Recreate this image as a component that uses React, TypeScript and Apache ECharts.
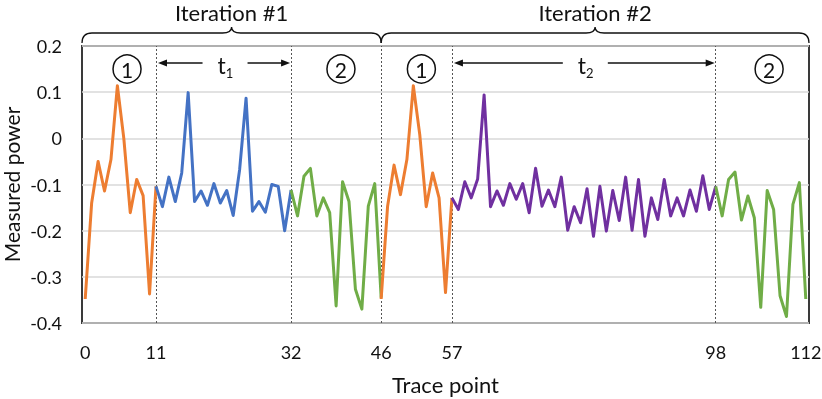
import React, { useEffect, useRef } from "react";
import * as echarts from "echarts";

// ---- data ----
const traceIndex: string[] = Array.from({ length: 113 }, (_, i) => String(i));
const xTickLabels = [0, 11, 32, 46, 57, 98, 112];
const phaseBoundaries = [11, 32, 46, 57, 98];
const yMin = -0.4;
const yMax = 0.2;
const yStep = 0.1;

const iter1Phase1Start = 0;
const iter1Phase1 = [-0.348, -0.14, -0.05, -0.114, -0.046, 0.114, 0.0, -0.161, -0.089, -0.124, -0.337, -0.104];
const iter1WaitStart = 11;
const iter1Wait = [-0.104, -0.148, -0.084, -0.137, -0.075, 0.099, -0.137, -0.114, -0.145, -0.098, -0.14, -0.113, -0.167, -0.068, 0.087, -0.158, -0.137, -0.16, -0.1, -0.104, -0.2, -0.112];
const iter1Phase2Start = 32;
const iter1Phase2 = [-0.112, -0.168, -0.082, -0.065, -0.168, -0.129, -0.161, -0.363, -0.094, -0.137, -0.327, -0.37, -0.147, -0.098, -0.345];
const iter2Phase1Start = 46;
const iter2Phase1 = [-0.348, -0.147, -0.058, -0.122, -0.046, 0.114, 0.008, -0.148, -0.075, -0.129, -0.334, -0.129];
const iter2WaitStart = 57;
const iter2Wait = [-0.129, -0.154, -0.094, -0.129, -0.088, 0.094, -0.148, -0.114, -0.145, -0.098, -0.132, -0.098, -0.161, -0.065, -0.147, -0.112, -0.148, -0.084, -0.199, -0.148, -0.183, -0.109, -0.212, -0.104, -0.201, -0.113, -0.178, -0.084, -0.199, -0.089, -0.212, -0.129, -0.176, -0.089, -0.168, -0.129, -0.168, -0.112, -0.158, -0.081, -0.154, -0.104];
const iter2Phase2Start = 98;
const iter2Phase2 = [-0.104, -0.168, -0.089, -0.073, -0.177, -0.125, -0.172, -0.366, -0.113, -0.154, -0.341, -0.386, -0.143, -0.096, -0.348];

const FONT = 'Lato, "Open Sans", "DejaVu Sans", sans-serif';
const W = 822;
const H = 399;
const GRID = { left: 82, right: 13, top: 46, bottom: 76 };

const ORANGE = "#ED7D31";
const BLUE = "#4472C4";
const GREEN = "#70AD47";
const PURPLE = "#7030A0";

function pad(start: number, vals: number[]): (number | null)[] {
  return traceIndex.map((_, i) => (i >= start && i < start + vals.length ? vals[i - start] : null));
}

function braceD(x0: number, x1: number, yEnd: number, yArm: number, yTip: number): string {
  const m = (x0 + x1) / 2;
  return (
    `M${x0},${yEnd} Q${x0},${yArm} ${x0 + 10},${yArm} L${m - 9},${yArm} ` +
    `Q${m},${yArm} ${m},${yTip} Q${m},${yArm} ${m + 9},${yArm} ` +
    `L${x1 - 10},${yArm} Q${x1},${yArm} ${x1},${yEnd}`
  );
}

export default function App() {
  const ref = useRef<HTMLDivElement>(null);
  useEffect(() => {
    if (!ref.current) return;
    const chart = echarts.init(ref.current, undefined, { renderer: "svg" });
    const lineSeries = (name: string, start: number, vals: number[], color: string, extra: any = {}) => ({
      name,
      type: "line",
      data: pad(start, vals),
      showSymbol: false,
      symbol: "none",
      connectNulls: false,
      lineStyle: { color, width: 3, join: "round" },
      itemStyle: { color },
      z: 3,
      ...extra,
    });
    chart.setOption({
      animation: false,
      grid: {
        ...GRID,
        containLabel: false,
        outerBoundsMode: "none",
        show: true,
        borderColor: "#3a3a3a",
        borderWidth: 2,
        backgroundColor: "transparent",
      },
      xAxis: {
        type: "category",
        data: traceIndex,
        boundaryGap: true,
        name: "Trace point",
        nameLocation: "middle",
        nameGap: 50,
        nameMoveOverlap: false,
        nameTextStyle: { fontFamily: FONT, fontSize: 22, color: "#111" },
        axisLine: { show: false },
        axisTick: { show: false },
        axisLabel: {
          interval: (index: number) => xTickLabels.includes(index),
          fontFamily: FONT,
          fontSize: 18,
          color: "#111",
          margin: 20,
        },
        splitLine: { show: false },
      },
      yAxis: {
        type: "value",
        min: yMin,
        max: yMax,
        interval: yStep,
        name: "Measured power",
        nameLocation: "middle",
        nameGap: 60,
        nameMoveOverlap: false,
        nameTextStyle: { fontFamily: FONT, fontSize: 21, color: "#111" },
        axisLine: { show: false },
        axisTick: { show: false },
        axisLabel: {
          fontFamily: FONT,
          fontSize: 18,
          color: "#111",
          margin: 20,
          formatter: (v: number) => String(Number(v.toFixed(1))),
        },
        splitLine: { show: true, lineStyle: { color: "#d9d9d9", width: 1.5 } },
      },
      series: [
        lineSeries("Iteration 1 phase 1", iter1Phase1Start, iter1Phase1, ORANGE, {
          markLine: {
            silent: true,
            symbol: "none",
            label: { show: false },
            lineStyle: { color: "#555", width: 1, type: [2, 2] },
            data: phaseBoundaries.map((b) => ({ xAxis: String(b) })),
            z: 1,
          },
        }),
        lineSeries("Iteration 1 t1", iter1WaitStart, iter1Wait, BLUE),
        lineSeries("Iteration 1 phase 2", iter1Phase2Start, iter1Phase2, GREEN),
        lineSeries("Iteration 2 phase 1", iter2Phase1Start, iter2Phase1, ORANGE),
        lineSeries("Iteration 2 t2", iter2WaitStart, iter2Wait, PURPLE),
        lineSeries("Iteration 2 phase 2", iter2Phase2Start, iter2Phase2, GREEN),
      ],
    });

    // positions from the axis
    const p0 = chart.convertToPixel({ xAxisIndex: 0 }, 0) as number;
    const p1 = chart.convertToPixel({ xAxisIndex: 0 }, 112) as number;
    const step = (p1 - p0) / 112;
    const fx = (v: number) => p0 + v * step;
    const leftEdge = p0 - step / 2;
    const rightEdge = p1 + step / 2;
    const mid46 = fx(46);

    echarts.graphic.registerShape("braceIter1", echarts.graphic.extendPath(braceD(leftEdge, mid46, 43, 33, 27), {}) as any);
    echarts.graphic.registerShape("braceIter2", echarts.graphic.extendPath(braceD(mid46, rightEdge, 43, 33, 27), {}) as any);

    const g: any[] = [];
    const txt = (text: string, x: number, y: number, size: number) => ({
      type: "text",
      x,
      y,
      style: { text, fontFamily: FONT, fontSize: size, fill: "#111", align: "center", verticalAlign: "middle" },
      z: 10,
    });
    g.push(txt("Iteration #1", (leftEdge + mid46) / 2, 12, 22));
    g.push(txt("Iteration #2", (mid46 + rightEdge) / 2, 12, 22));
    g.push({ type: "braceIter1", x: 0, y: 0, style: { fill: "none", stroke: "#111", lineWidth: 1.3 }, z: 10 });
    g.push({ type: "braceIter2", x: 0, y: 0, style: { fill: "none", stroke: "#111", lineWidth: 1.3 }, z: 10 });

    const circled = (digit: string, v: number) => {
      const cx = fx(v);
      g.push({ type: "circle", shape: { cx, cy: 69, r: 14 }, style: { fill: "none", stroke: "#111", lineWidth: 1.5 }, z: 10 });
      g.push(txt(digit, cx, 69, 21));
    };
    circled("1", 6.5);
    circled("2", 39.75);
    circled("1", 52.25);
    circled("2", 106.3);

    const arrowY = 63;
    const arrow = (a: number, b: number, sub: string) => {
      const xa = fx(a) + 2;
      const xb = fx(b) - 1;
      const m = (fx(a) + fx(b)) / 2;
      const ls = { stroke: "#111", lineWidth: 1.5 };
      g.push({ type: "line", shape: { x1: xa + 6, y1: arrowY, x2: m - 21, y2: arrowY }, style: ls, z: 10 });
      g.push({ type: "line", shape: { x1: m + 24, y1: arrowY, x2: xb - 6, y2: arrowY }, style: ls, z: 10 });
      g.push({ type: "polygon", shape: { points: [[xa, arrowY], [xa + 9, arrowY - 3.5], [xa + 9, arrowY + 3.5]] }, style: { fill: "#111" }, z: 10 });
      g.push({ type: "polygon", shape: { points: [[xb, arrowY], [xb - 9, arrowY - 3.5], [xb - 9, arrowY + 3.5]] }, style: { fill: "#111" }, z: 10 });
      g.push(txt("t", m - 2, 65, 23));
      g.push(txt(sub, m + 6, 73, 13));
    };
    arrow(11, 32, "1");
    arrow(57, 98, "2");

    chart.setOption({ graphic: g });

    return () => chart.dispose();
  }, []);
  return <div ref={ref} style={{ position: "fixed", left: 0, top: 0, width: W, height: H }} />;
}
